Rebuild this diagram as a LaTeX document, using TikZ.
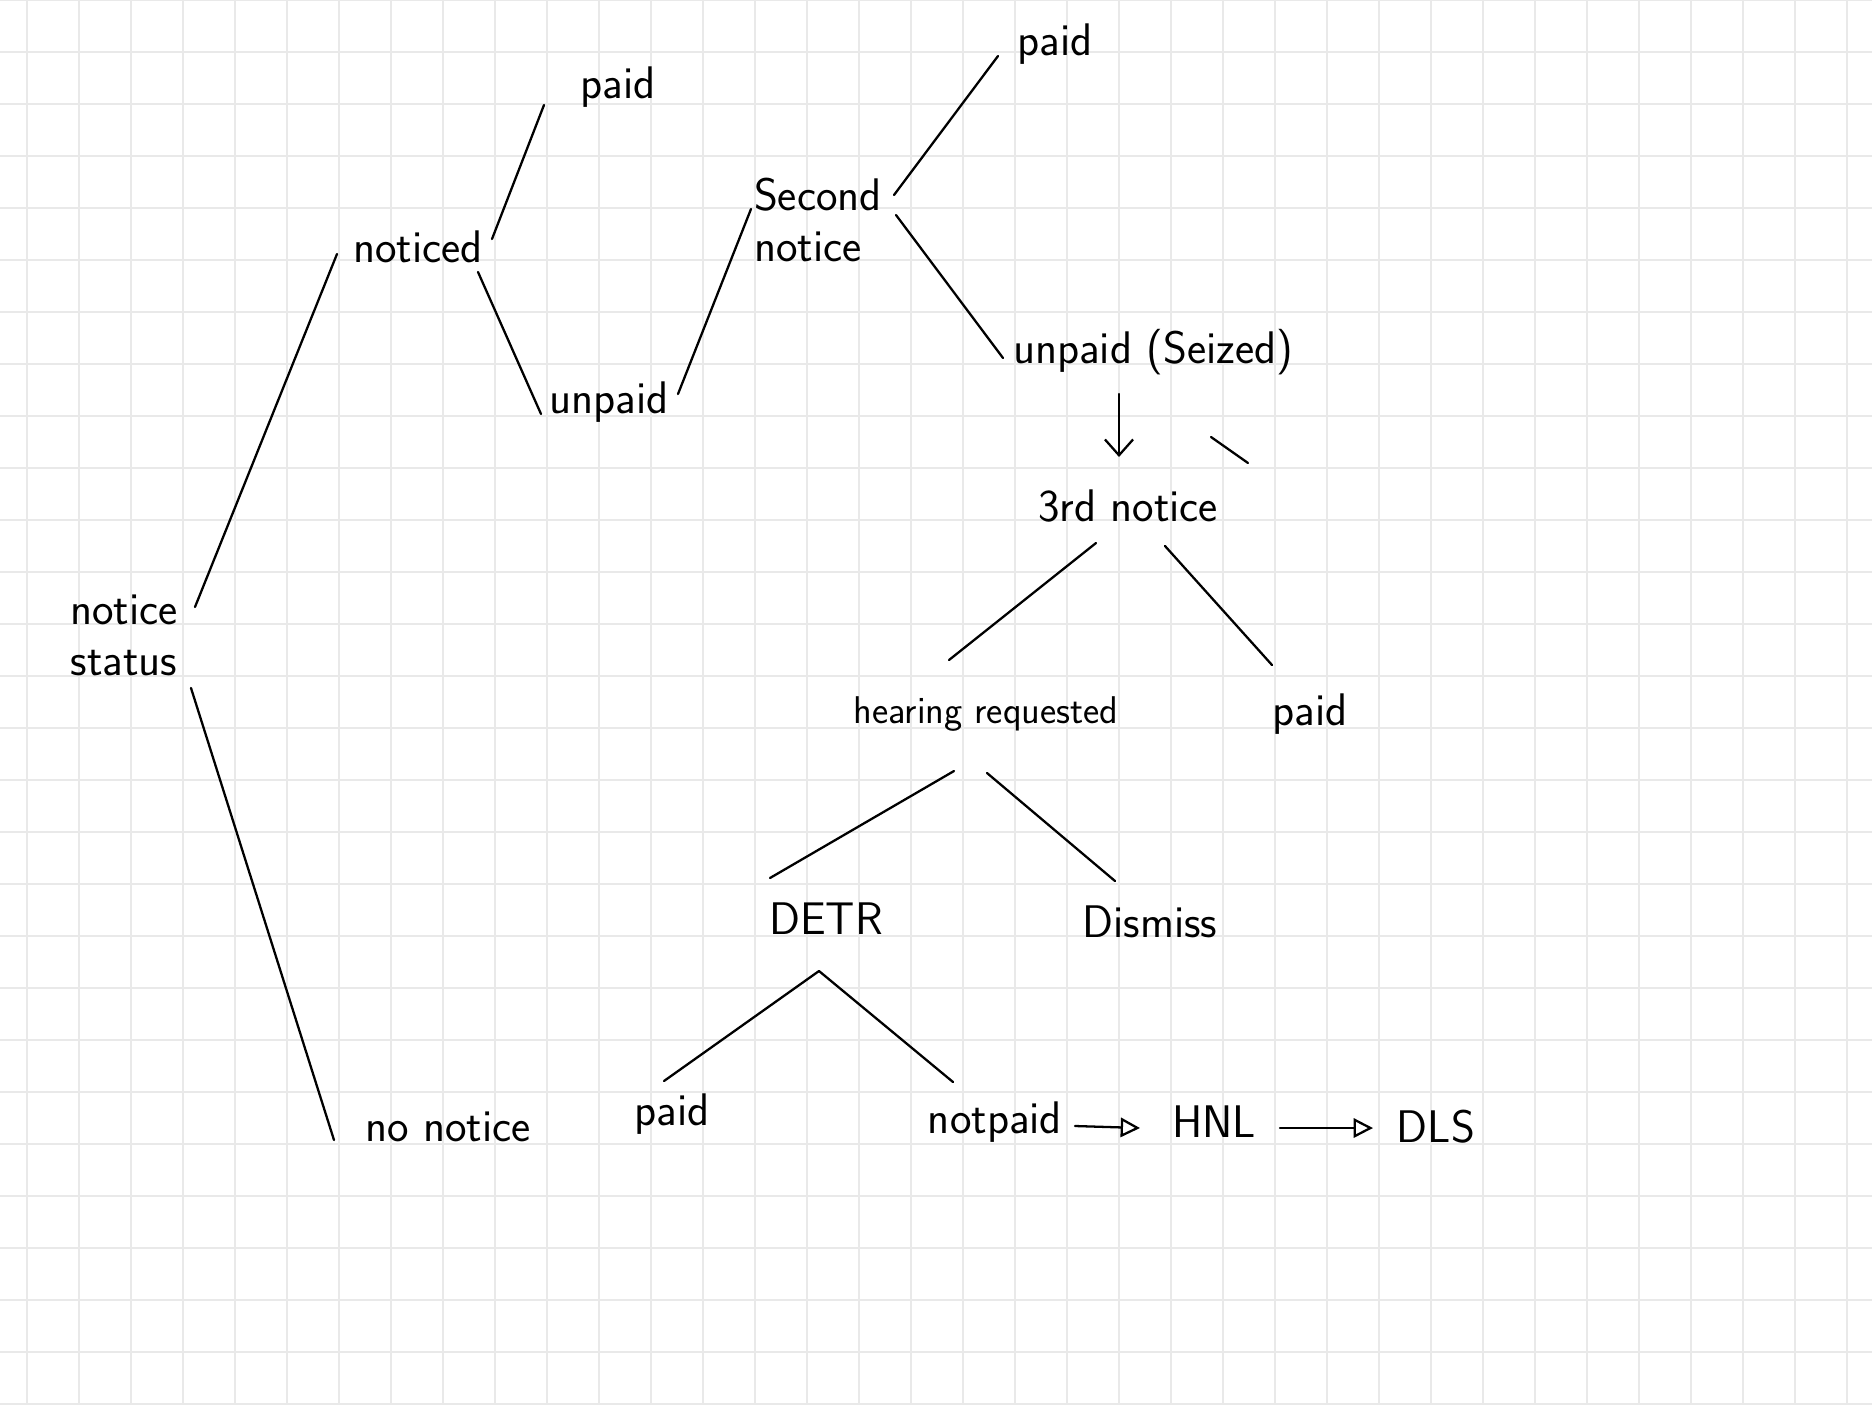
\documentclass[tikz,border=0pt]{standalone}
\usepackage{tikz}
\usetikzlibrary{arrows.meta}
\definecolor{gridgray}{RGB}{233,233,233}
\tikzset{
  ink/.style={line width=1.3pt, line cap=round},
  gridline/.style={line width=1.1pt, color=gridgray},
  lbl/.style={font=\sffamily\fontsize{26}{29}\selectfont, inner sep=0pt, align=center},
  smalllbl/.style={lbl, font=\sffamily\fontsize{22}{26}\selectfont},
  barb/.style={-{Straight Barb[length=9pt,width=16pt,line width=1.3pt]}},
  opentip/.style={-{Triangle[open,length=11pt,width=11pt,line width=1.3pt]}},
}

\begin{document}
\begin{tikzpicture}[x=0.02cm,y=-0.02cm]
  \useasboundingbox[fill=white] (0,0) rectangle (1872,1404);
  % squared paper
  \foreach \i in {0,...,35}
    \draw[gridline] (27+52*\i,0) -- (27+52*\i,1404);
  \foreach \j in {0,...,27}
    \draw[gridline] (0,52*\j) -- (1872,52*\j);

  % labels
  \node[lbl] (status) at (124,635) {notice\\status};
  \node[lbl] (noticed) at (418,247) {noticed};
  \node[lbl] (paidA) at (618,87) {paid};
  \node[lbl] (unpaidA) at (609,402) {unpaid};
  \node[lbl,align=left] (second) at (818,220) {Second\\notice};
  \node[lbl] (paidB) at (1055,44) {paid};
  \node[lbl] (seized) at (1153,352) {unpaid (Seized)};
  \node[lbl] (third) at (1128,506) {3rd notice};
  \node[smalllbl] (hearing) at (986,714) {hearing requested};
  \node[lbl] (paidC) at (1310,714) {paid};
  \node[lbl] (detr) at (826,919) {DETR};
  \node[lbl] (dismiss) at (1150,922) {Dismiss};
  \node[lbl] (nonotice) at (448,1127) {no notice};
  \node[lbl] (paidD) at (672,1114) {paid};
  \node[lbl] (notpaid) at (995,1122) {notpaid};
  \node[lbl] (hnl) at (1214,1122) {HNL};
  \node[lbl] (dls) at (1436,1127) {DLS};

  % branches
  \draw[ink] ([shift={(71,-28)}]status.center) -- ([shift={(-81,7)}]noticed.center);
  \draw[ink] ([shift={(67,53)}]status.center) -- ([shift={(-114,13)}]nonotice.center);
  \draw[ink] ([shift={(74,-8)}]noticed.center) -- ([shift={(-74,18)}]paidA.center);
  \draw[ink] ([shift={(60,25)}]noticed.center) -- ([shift={(-68,12)}]unpaidA.center);
  \draw[ink] ([shift={(69,-8)}]unpaidA.center) -- ([shift={(-67,-11)}]second.center);
  \draw[ink] ([shift={(76,-25)}]second.center) -- ([shift={(-57,12)}]paidB.center);
  \draw[ink] ([shift={(78,-5)}]second.center) -- ([shift={(-150,6)}]seized.center);
  \draw[ink,barb] ([shift={(-34,42)}]seized.center) -- ([shift={(-9,-49)}]third.center);
  \draw[ink] (1211,437) -- (1248,463);
  \draw[ink] ([shift={(-32,37)}]third.center) -- ([shift={(-37,-54)}]hearing.center);
  \draw[ink] ([shift={(37,40)}]third.center) -- ([shift={(-38,-49)}]paidC.center);
  \draw[ink] ([shift={(-32,57)}]hearing.center) -- ([shift={(-56,-41)}]detr.center);
  \draw[ink] ([shift={(1,59)}]hearing.center) -- ([shift={(-35,-41)}]dismiss.center);
  \draw[ink] ([shift={(-7,52)}]detr.center) -- ([shift={(-8,-33)}]paidD.center);
  \draw[ink] ([shift={(-7,52)}]detr.center) -- ([shift={(-42,-40)}]notpaid.center);
  \draw[ink,opentip] ([shift={(80,4)}]notpaid.center) -- ([shift={(-74,6)}]hnl.center);
  \draw[ink,opentip] ([shift={(66,6)}]hnl.center) -- ([shift={(-63,1)}]dls.center);
\end{tikzpicture}
\end{document}
